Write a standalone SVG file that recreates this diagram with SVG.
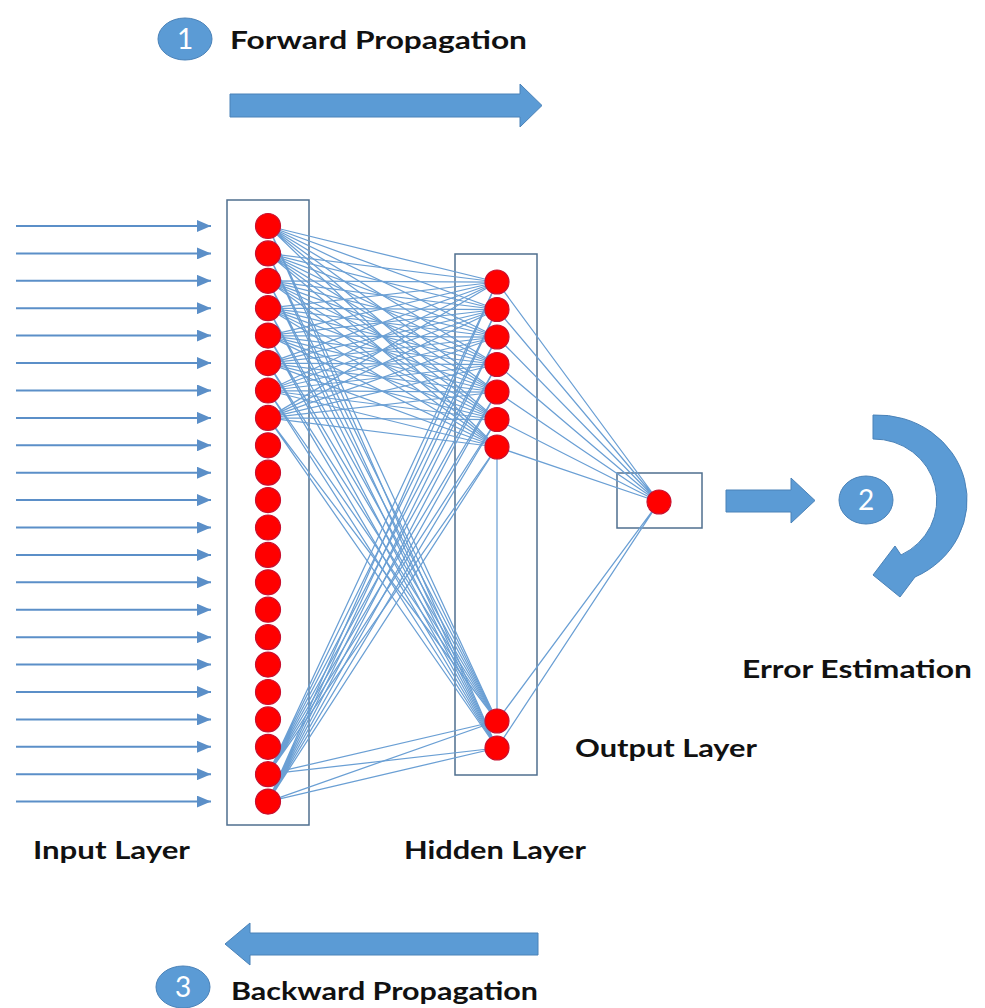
<svg xmlns="http://www.w3.org/2000/svg" width="985" height="1008" viewBox="0 0 985 1008">
<style>
.bg{fill:#ffffff}
.box{fill:none;stroke:#4f6f8f;stroke-width:1.5}
.nd{fill:#ff0000;stroke:#c8102e;stroke-width:1.2}
.cn{fill:none;stroke:#6a9fd4;stroke-width:1.25}
.in{stroke:#5b8fc8;stroke-width:2}
.big{fill:#5b9bd5;stroke:#4a82b8;stroke-width:1}
.lbl{font-family:Lato,"Open Sans","Liberation Sans",sans-serif;font-weight:bold;font-size:24px;fill:#111111}
.num{font-family:Lato,"Liberation Sans",sans-serif;font-size:28px;fill:#ffffff;text-anchor:middle}
</style>
<defs>
<marker id="ah" viewBox="0 0 10 10" refX="10" refY="5" markerWidth="14" markerHeight="12" markerUnits="userSpaceOnUse" orient="auto" preserveAspectRatio="none">
<path d="M0,0 L10,5 L0,10 Z" fill="#5b8fc8"/>
</marker>
</defs>
<rect class="bg" x="0" y="0" width="985" height="1008"/>

<g id="process-arrows">
<path class="big" d="M230,94 H520 V84 L542,105.5 L520,127 V117 H230 Z"/>
<path class="big" d="M538,933 H250 V923 L225,944 L250,965 V955 H538 Z"/>
<path class="big" d="M726,490 H791 V478 L815,500.5 L791,523 V512 H726 Z"/>
<path class="big" d="M873,415 A90 85 0 0 1 915,577 L900,597 L873,575 L895,546 L901,555 A63 61 0 0 0 873,439 Z"/>
</g>

<g id="step1">
<ellipse class="big" cx="185" cy="39" rx="27" ry="21"/>
<text class="num" x="185" y="49">1</text>
<text class="lbl" x="230" y="49" textLength="297" lengthAdjust="spacingAndGlyphs">Forward Propagation</text>
</g>
<g id="step2">
<ellipse class="big" cx="866" cy="500" rx="27" ry="24"/>
<text class="num" x="866" y="510">2</text>
<text class="lbl" x="742" y="678" textLength="230" lengthAdjust="spacingAndGlyphs">Error Estimation</text>
</g>
<g id="step3">
<ellipse class="big" cx="183" cy="987" rx="27" ry="21"/>
<text class="num" x="183" y="997">3</text>
<text class="lbl" x="231" y="1000" textLength="307" lengthAdjust="spacingAndGlyphs">Backward Propagation</text>
</g>

<g id="input-arrows">
<line class="in" x1="16" y1="226" x2="211" y2="226" marker-end="url(#ah)"/>
<line class="in" x1="16" y1="253.4" x2="211" y2="253.4" marker-end="url(#ah)"/>
<line class="in" x1="16" y1="280.8" x2="211" y2="280.8" marker-end="url(#ah)"/>
<line class="in" x1="16" y1="308.2" x2="211" y2="308.2" marker-end="url(#ah)"/>
<line class="in" x1="16" y1="335.6" x2="211" y2="335.6" marker-end="url(#ah)"/>
<line class="in" x1="16" y1="363.1" x2="211" y2="363.1" marker-end="url(#ah)"/>
<line class="in" x1="16" y1="390.5" x2="211" y2="390.5" marker-end="url(#ah)"/>
<line class="in" x1="16" y1="417.9" x2="211" y2="417.9" marker-end="url(#ah)"/>
<line class="in" x1="16" y1="445.3" x2="211" y2="445.3" marker-end="url(#ah)"/>
<line class="in" x1="16" y1="472.7" x2="211" y2="472.7" marker-end="url(#ah)"/>
<line class="in" x1="16" y1="500.1" x2="211" y2="500.1" marker-end="url(#ah)"/>
<line class="in" x1="16" y1="527.5" x2="211" y2="527.5" marker-end="url(#ah)"/>
<line class="in" x1="16" y1="554.9" x2="211" y2="554.9" marker-end="url(#ah)"/>
<line class="in" x1="16" y1="582.3" x2="211" y2="582.3" marker-end="url(#ah)"/>
<line class="in" x1="16" y1="609.7" x2="211" y2="609.7" marker-end="url(#ah)"/>
<line class="in" x1="16" y1="637.2" x2="211" y2="637.2" marker-end="url(#ah)"/>
<line class="in" x1="16" y1="664.6" x2="211" y2="664.6" marker-end="url(#ah)"/>
<line class="in" x1="16" y1="692" x2="211" y2="692" marker-end="url(#ah)"/>
<line class="in" x1="16" y1="719.4" x2="211" y2="719.4" marker-end="url(#ah)"/>
<line class="in" x1="16" y1="746.8" x2="211" y2="746.8" marker-end="url(#ah)"/>
<line class="in" x1="16" y1="774.2" x2="211" y2="774.2" marker-end="url(#ah)"/>
<line class="in" x1="16" y1="801.6" x2="211" y2="801.6" marker-end="url(#ah)"/>
</g>

<g id="layer-boxes">
<rect id="input-box" class="box" x="227" y="200" width="82" height="625"/>
<rect id="hidden-box" class="box" x="455" y="254" width="82" height="521"/>
<rect id="output-box" class="box" x="617" y="473" width="85" height="55"/>
</g>

<g id="connectors">
<path class="cn" d="M268,226 L497,282 M268,226 L497,309.5 M268,226 L497,337 M268,226 L497,364.5 M268,226 L497,392 M268,226 L497,419.5 M268,226 L497,447 M268,226 L497,721 M268,226 L497,748"/>
<path class="cn" d="M268,253.4 L497,282 M268,253.4 L497,309.5 M268,253.4 L497,337 M268,253.4 L497,364.5 M268,253.4 L497,392 M268,253.4 L497,419.5 M268,253.4 L497,447 M268,253.4 L497,721 M268,253.4 L497,748"/>
<path class="cn" d="M268,280.8 L497,282 M268,280.8 L497,309.5 M268,280.8 L497,337 M268,280.8 L497,364.5 M268,280.8 L497,392 M268,280.8 L497,419.5 M268,280.8 L497,447 M268,280.8 L497,721 M268,280.8 L497,748"/>
<path class="cn" d="M268,308.2 L497,282 M268,308.2 L497,309.5 M268,308.2 L497,337 M268,308.2 L497,364.5 M268,308.2 L497,392 M268,308.2 L497,419.5 M268,308.2 L497,447 M268,308.2 L497,721 M268,308.2 L497,748"/>
<path class="cn" d="M268,335.6 L497,282 M268,335.6 L497,309.5 M268,335.6 L497,337 M268,335.6 L497,364.5 M268,335.6 L497,392 M268,335.6 L497,419.5 M268,335.6 L497,447 M268,335.6 L497,721 M268,335.6 L497,748"/>
<path class="cn" d="M268,363.1 L497,282 M268,363.1 L497,309.5 M268,363.1 L497,337 M268,363.1 L497,364.5 M268,363.1 L497,392 M268,363.1 L497,419.5 M268,363.1 L497,447 M268,363.1 L497,721 M268,363.1 L497,748"/>
<path class="cn" d="M268,390.5 L497,282 M268,390.5 L497,309.5 M268,390.5 L497,337 M268,390.5 L497,364.5 M268,390.5 L497,392 M268,390.5 L497,419.5 M268,390.5 L497,447 M268,390.5 L497,721 M268,390.5 L497,748"/>
<path class="cn" d="M268,417.9 L497,282 M268,417.9 L497,309.5 M268,417.9 L497,337 M268,417.9 L497,364.5 M268,417.9 L497,392 M268,417.9 L497,419.5 M268,417.9 L497,447 M268,417.9 L497,721 M268,417.9 L497,748"/>
<path class="cn" d="M268,774.2 L497,282 M268,774.2 L497,309.5 M268,774.2 L497,337 M268,774.2 L497,364.5 M268,774.2 L497,392 M268,774.2 L497,419.5 M268,774.2 L497,447 M268,774.2 L497,721 M268,774.2 L497,748"/>
<path class="cn" d="M268,801.6 L497,282 M268,801.6 L497,309.5 M268,801.6 L497,337 M268,801.6 L497,364.5 M268,801.6 L497,392 M268,801.6 L497,419.5 M268,801.6 L497,447 M268,801.6 L497,721 M268,801.6 L497,748"/>
<path class="cn" d="M497,447 L497,721"/>
<path class="cn" d="M497,282 L659,502 M497,309.5 L659,502 M497,337 L659,502 M497,364.5 L659,502 M497,392 L659,502 M497,419.5 L659,502 M497,447 L659,502 M497,721 L659,502 M497,748 L659,502"/>
</g>

<g id="input-layer">
<g id="in1"><circle class="nd" cx="268" cy="226" r="12.5"/></g>
<g id="in2"><circle class="nd" cx="268" cy="253.4" r="12.5"/></g>
<g id="in3"><circle class="nd" cx="268" cy="280.8" r="12.5"/></g>
<g id="in4"><circle class="nd" cx="268" cy="308.2" r="12.5"/></g>
<g id="in5"><circle class="nd" cx="268" cy="335.6" r="12.5"/></g>
<g id="in6"><circle class="nd" cx="268" cy="363.1" r="12.5"/></g>
<g id="in7"><circle class="nd" cx="268" cy="390.5" r="12.5"/></g>
<g id="in8"><circle class="nd" cx="268" cy="417.9" r="12.5"/></g>
<g id="in9"><circle class="nd" cx="268" cy="445.3" r="12.5"/></g>
<g id="in10"><circle class="nd" cx="268" cy="472.7" r="12.5"/></g>
<g id="in11"><circle class="nd" cx="268" cy="500.1" r="12.5"/></g>
<g id="in12"><circle class="nd" cx="268" cy="527.5" r="12.5"/></g>
<g id="in13"><circle class="nd" cx="268" cy="554.9" r="12.5"/></g>
<g id="in14"><circle class="nd" cx="268" cy="582.3" r="12.5"/></g>
<g id="in15"><circle class="nd" cx="268" cy="609.7" r="12.5"/></g>
<g id="in16"><circle class="nd" cx="268" cy="637.2" r="12.5"/></g>
<g id="in17"><circle class="nd" cx="268" cy="664.6" r="12.5"/></g>
<g id="in18"><circle class="nd" cx="268" cy="692" r="12.5"/></g>
<g id="in19"><circle class="nd" cx="268" cy="719.4" r="12.5"/></g>
<g id="in20"><circle class="nd" cx="268" cy="746.8" r="12.5"/></g>
<g id="in21"><circle class="nd" cx="268" cy="774.2" r="12.5"/></g>
<g id="in22"><circle class="nd" cx="268" cy="801.6" r="12.5"/></g>
<text class="lbl" x="33" y="859" textLength="157" lengthAdjust="spacingAndGlyphs">Input Layer</text>
</g>

<g id="hidden-layer">
<g id="h1"><circle class="nd" cx="497" cy="282" r="12"/></g>
<g id="h2"><circle class="nd" cx="497" cy="309.5" r="12"/></g>
<g id="h3"><circle class="nd" cx="497" cy="337" r="12"/></g>
<g id="h4"><circle class="nd" cx="497" cy="364.5" r="12"/></g>
<g id="h5"><circle class="nd" cx="497" cy="392" r="12"/></g>
<g id="h6"><circle class="nd" cx="497" cy="419.5" r="12"/></g>
<g id="h7"><circle class="nd" cx="497" cy="447" r="12"/></g>
<g id="h8"><circle class="nd" cx="497" cy="721" r="12"/></g>
<g id="h9"><circle class="nd" cx="497" cy="748" r="12"/></g>
<text class="lbl" x="404" y="859" textLength="182" lengthAdjust="spacingAndGlyphs">Hidden Layer</text>
</g>

<g id="output-layer">
<g id="out1"><circle class="nd" cx="659" cy="502" r="12"/></g>
<text class="lbl" x="575" y="757" textLength="182" lengthAdjust="spacingAndGlyphs">Output Layer</text>
</g>
</svg>
